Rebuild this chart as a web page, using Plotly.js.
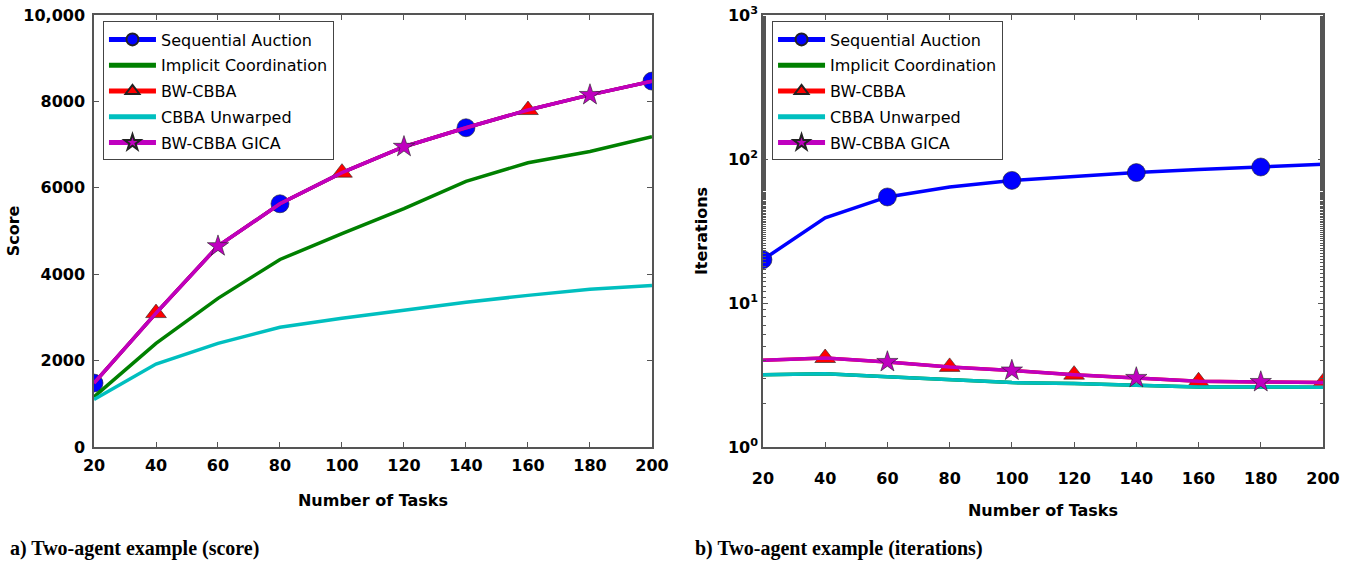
<!DOCTYPE html>
<html>
<head>
<meta charset="utf-8">
<script src="https://cdn.plot.ly/plotly-3.0.1.min.js"></script>
<style>html,body{margin:0;padding:0;background:#fff;} #chart{width:1353px;height:561px;}</style>
</head>
<body>
<div id="chart"></div>
<script>
// ---- data ----
const tasks = [20, 40, 60, 80, 100, 120, 140, 160, 180, 200];
const seriesNames = ["Sequential Auction", "Implicit Coordination", "BW-CBBA", "CBBA Unwarped", "BW-CBBA GICA"];

// (a) score
const scoreSequential = [1480, 3100, 4650, 5630, 6350, 6950, 7390, 7800, 8150, 8470];
const scoreImplicit   = [1160, 2400, 3440, 4340, 4940, 5520, 6150, 6580, 6840, 7180];
const scoreBW         = [1480, 3100, 4650, 5630, 6350, 6950, 7390, 7800, 8150, 8470];
const scoreUnwarped   = [1100, 1920, 2400, 2770, 2980, 3170, 3350, 3510, 3650, 3740];
const scoreGICA       = [1480, 3100, 4650, 5630, 6350, 6950, 7390, 7800, 8150, 8470];

// (b) iterations
const iterSequential = [20, 39, 54.5, 64, 71, 76, 80.5, 84.5, 88, 92];
const iterImplicit   = [3.18, 3.22, 3.07, 2.94, 2.8, 2.76, 2.68, 2.61, 2.61, 2.6];
const iterBW         = [4.0, 4.15, 3.9, 3.6, 3.4, 3.18, 3.02, 2.86, 2.83, 2.81];
const iterUnwarped   = [3.18, 3.22, 3.07, 2.94, 2.8, 2.76, 2.68, 2.61, 2.61, 2.6];
const iterGICA       = [4.0, 4.15, 3.9, 3.6, 3.4, 3.18, 3.02, 2.86, 2.83, 2.81];

// tick labels
const xTickVals = [20, 40, 60, 80, 100, 120, 140, 160, 180, 200];
const scoreTickVals = [0, 2000, 4000, 6000, 8000, 10000];
const scoreTickText = ["0", "2000", "4000", "6000", "8000", "10,000"];
const iterTickVals = [1, 10, 100, 1000];
const iterTickText = ["10<sup>0</sup>", "10<sup>1</sup>", "10<sup>2</sup>", "10<sup>3</sup>"];

const captionA = "a) Two-agent example (score)";
const captionB = "b) Two-agent example (iterations)";

// ---- styles ----
const colors = ["#0000ff", "#008000", "#ff0000", "#00bfbf", "#bf00bf"];
const symbols = ["circle", null, "triangle-up", null, "star"];
const msizes = [18, 0, 18, 0, 16];
// marker placement [start, step] (like matplotlib markevery)
const markEveryA = [[0, 3], null, [1, 3], null, [2, 3]];
const markEveryB = [[0, 2], null, [1, 2], null, [2, 2]];

function markerArr(n, me, val) {
  const out = [];
  for (let i = 0; i < n; i++) out.push(me && i >= me[0] && (i - me[0]) % me[1] === 0 ? val : 0);
  return out;
}

function makeTraces(ys, markEvery, xa, ya, legend) {
  return ys.map((y, k) => {
    const t = {
      x: tasks, y: y, name: seriesNames[k], xaxis: xa, yaxis: ya, legend: legend,
      legendgroup: legend + k,
      type: "scatter",
      mode: symbols[k] ? "lines+markers" : "lines",
      line: {color: colors[k], width: 3.5},
      hoverinfo: "x+y+name"
    };
    if (symbols[k]) {
      t.marker = {
        symbol: symbols[k], color: colors[k], opacity: 1,
        size: markerArr(tasks.length, markEvery[k], msizes[k]),
        line: {color: "#222", width: markerArr(tasks.length, markEvery[k], 0.6)}
      };
    }
    return t;
  });
}

const traces = [].concat(
  makeTraces([scoreSequential, scoreImplicit, scoreBW, scoreUnwarped, scoreGICA], markEveryA, "x", "y", "legend"),
  makeTraces([iterSequential, iterImplicit, iterBW, iterUnwarped, iterGICA], markEveryB, "x2", "y2", "legend2")
);

const tickFont = {family: "DejaVu Sans", size: 16, weight: "bold", color: "#000"};
const titleFont = {family: "DejaVu Sans", size: 16, weight: "bold", color: "#000"};
const axisCommon = {
  showgrid: false, zeroline: false, showline: true, linecolor: "#555", linewidth: 1.5,
  mirror: "ticks", ticks: "inside", ticklen: 5, tickwidth: 1, tickcolor: "#555",
  tickfont: tickFont
};

const legendCommon = {
  font: {family: "DejaVu Sans", size: 16, color: "#000"},
  bgcolor: "#fff", bordercolor: "#444", borderwidth: 1,
  itemsizing: "constant", itemwidth: 47, traceorder: "grouped", tracegroupgap: 2,
  xanchor: "left", yanchor: "top"
};

const layout = {
  width: 1353, height: 561,
  margin: {l: 94, r: 30, t: 15, b: 114},
  paper_bgcolor: "#fff", plot_bgcolor: "#fff",
  showlegend: true,
  xaxis: Object.assign({}, axisCommon, {
    domain: [0, 0.454], anchor: "y", range: [20, 200], tickvals: xTickVals,
    ticklabelstandoff: 3,
    title: {text: "Number of Tasks", font: titleFont, standoff: 21}
  }),
  yaxis: Object.assign({}, axisCommon, {
    anchor: "x", range: [0, 10000], tickvals: scoreTickVals, ticktext: scoreTickText,
    ticklabelstandoff: 4,
    title: {text: "Score", font: titleFont, standoff: 0}
  }),
  xaxis2: Object.assign({}, axisCommon, {
    domain: [0.5443, 1], anchor: "y2", range: [20, 200], tickvals: xTickVals,
    ticklabelstandoff: 16,
    title: {text: "Number of Tasks", font: titleFont, standoff: 18}
  }),
  yaxis2: Object.assign({}, axisCommon, {
    anchor: "x2", type: "log", range: [0, 3], tickvals: iterTickVals, ticktext: iterTickText,
    minor: {ticks: "inside", ticklen: 3, tickcolor: "#555", showgrid: false},
    title: {text: "Iterations", font: titleFont, standoff: 16}
  }),
  legend: Object.assign({}, legendCommon, {x: 0.0073, y: 0.985}),
  legend2: Object.assign({}, legendCommon, {x: 0.5517, y: 0.985}),
  annotations: [
    {text: captionA, xref: "paper", yref: "paper", x: -0.07, y: -0.2338, xanchor: "left", yanchor: "middle",
     showarrow: false, font: {family: "Liberation Serif", size: 20, weight: "bold", color: "#000"}},
    {text: captionB, xref: "paper", yref: "paper", x: 0.4874, y: -0.2338, xanchor: "left", yanchor: "middle",
     showarrow: false, font: {family: "Liberation Serif", size: 20, weight: "bold", color: "#000"}}
  ]
};

Plotly.newPlot("chart", traces, layout, {displayModeBar: false});
</script>
</body>
</html>
